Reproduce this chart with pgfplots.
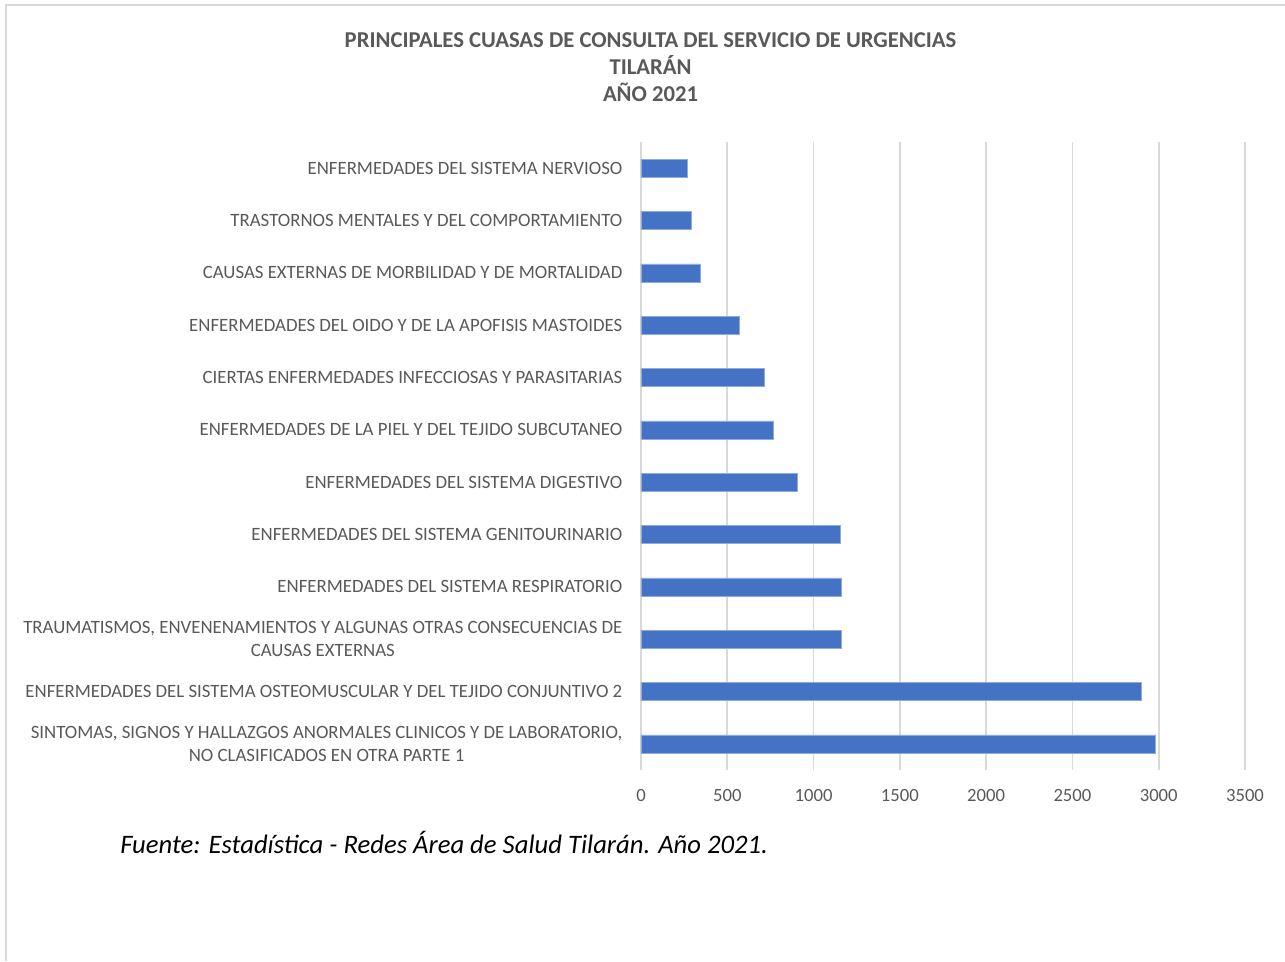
\documentclass[border=0pt]{standalone}
\usepackage{pgfplots}
\pgfplotsset{compat=1.18}
\usepackage{fontspec}
\setmainfont{Carlito}
\definecolor{barblue}{HTML}{4472C4}
\definecolor{txtgray}{HTML}{595959}
\definecolor{gridgray}{HTML}{D9D9D9}
\definecolor{framegray}{HTML}{D9D9D9}
\begin{document}
\begin{tikzpicture}[x=1pt,y=1pt]
\useasboundingbox (0,0) rectangle (963.75,720.75);
\draw[framegray, line width=1.5pt] (4.5,0) -- (4.5,717) -- (963.75,717);
\begin{axis}[
  at={(480.75pt,143.25pt)}, anchor=south west,
  scale only axis, width=453pt, height=471pt,
  xbar, bar width=13.5pt,
  xmin=0, xmax=3500,
  ymin=-0.5, ymax=11.5,
  xtick={0,500,...,3500},
  ytick={0,...,11},
  yticklabels={{SINTOMAS, SIGNOS Y HALLAZGOS ANORMALES CLINICOS Y DE LABORATORIO,\\NO CLASIFICADOS EN OTRA PARTE 1},
    {ENFERMEDADES DEL SISTEMA OSTEOMUSCULAR Y DEL TEJIDO CONJUNTIVO 2},
    {TRAUMATISMOS, ENVENENAMIENTOS Y ALGUNAS OTRAS CONSECUENCIAS DE\\CAUSAS EXTERNAS},
    {ENFERMEDADES DEL SISTEMA RESPIRATORIO},
    {ENFERMEDADES DEL SISTEMA GENITOURINARIO},
    {ENFERMEDADES DEL SISTEMA DIGESTIVO},
    {ENFERMEDADES DE LA PIEL Y DEL TEJIDO SUBCUTANEO},
    {CIERTAS ENFERMEDADES INFECCIOSAS Y PARASITARIAS},
    {ENFERMEDADES DEL OIDO Y DE LA APOFISIS MASTOIDES},
    {CAUSAS EXTERNAS DE MORBILIDAD Y DE MORTALIDAD},
    {TRASTORNOS MENTALES Y DEL COMPORTAMIENTO},
    {ENFERMEDADES DEL SISTEMA NERVIOSO}},
  yticklabel style={align=center, inner sep=0pt, xshift=-13.75pt, text=txtgray,
    font=\fontsize{14.1}{17.25}\selectfont},
  xticklabel style={inner sep=0pt, yshift=-14.5pt, text=txtgray,
    font=\fontsize{14}{16}\selectfont},
  /pgf/number format/assume math mode=true,
  /pgf/number format/1000 sep={},
  scaled x ticks=false,
  xmajorgrids, grid style={gridgray, line width=1.2pt},
  axis line style={draw=none},
  major tick length=0pt,
  tick style={draw=none},
]
\addplot[fill=barblue, draw=barblue!60!white, line width=0.4pt] coordinates {
  (2980,0) (2899,1) (1161,2) (1161,3) (1155,4) (908,5)
  (769,6) (717,7) (568,8) (346,9) (294,10) (270,11)
};
\end{axis}
\node[anchor=base, text=txtgray, font=\fontsize{17}{20}\bfseries] at (487.9,684.75) {PRINCIPALES CUASAS DE CONSULTA DEL SERVICIO DE URGENCIAS};
\node[anchor=base, text=txtgray, font=\fontsize{17}{20}\bfseries] at (487.9,664.5) {TILARÁN};
\node[anchor=base, text=txtgray, font=\fontsize{17}{20}\bfseries] at (487.9,644.25) {AÑO 2021};
\node[anchor=base west, inner sep=0pt, font=\fontsize{20}{24}\itshape] at (90,81) {Fuente: Estadística - Redes Área de Salud Tilarán. Año 2021.};
\end{tikzpicture}
\end{document}
